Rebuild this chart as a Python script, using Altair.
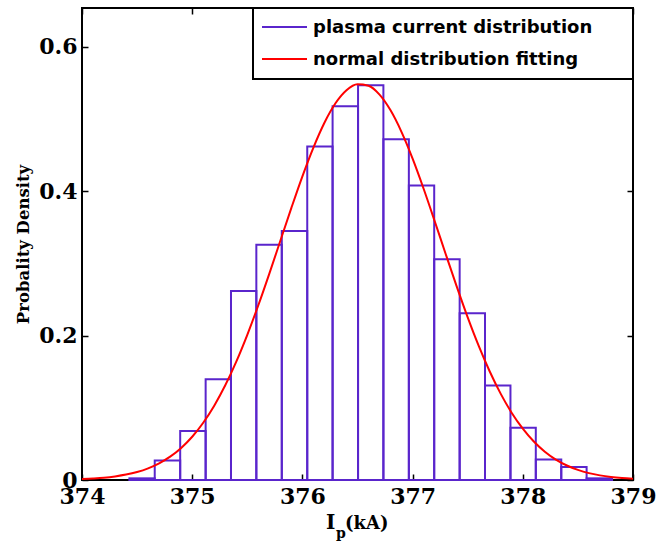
import altair as alt
import pandas as pd

# ---- data ----
bin_edges = [374.430, 374.660, 374.891, 375.122, 375.352, 375.582, 375.813,
             376.044, 376.274, 376.505, 376.735, 376.966, 377.196, 377.427,
             377.657, 377.888, 378.118, 378.349, 378.579, 378.810]
bin_density = [0.0023, 0.027, 0.068, 0.1395, 0.262, 0.326, 0.345, 0.462,
               0.518, 0.547, 0.472, 0.408, 0.306, 0.231, 0.131, 0.0725,
               0.0285, 0.018, 0.0023]

curve_x = [374.0, 374.1, 374.2, 374.3, 374.4, 374.5, 374.6, 374.7, 374.8, 374.9,
           375.0, 375.1, 375.2, 375.3, 375.4, 375.5, 375.6, 375.7, 375.8, 375.9,
           376.0, 376.1, 376.2, 376.3, 376.4, 376.5, 376.6, 376.7, 376.8, 376.9,
           377.0, 377.1, 377.2, 377.3, 377.4, 377.5, 377.6, 377.7, 377.8, 377.9,
           378.0, 378.1, 378.2, 378.3, 378.4, 378.5, 378.6, 378.7, 378.8, 378.9,
           379.0]
curve_y = [0.0013, 0.0021, 0.0032, 0.0050, 0.0075, 0.0111, 0.0162, 0.0231, 0.0323, 0.0444,
           0.0599, 0.0793, 0.1030, 0.1312, 0.1640, 0.2012, 0.2421, 0.2860, 0.3315, 0.3770,
           0.4208, 0.4607, 0.4951, 0.5220, 0.5401, 0.5483, 0.5463, 0.5340, 0.5122, 0.4821,
           0.4453, 0.4036, 0.3589, 0.3132, 0.2682, 0.2253, 0.1858, 0.1503, 0.1193, 0.0929,
           0.0711, 0.0533, 0.0392, 0.0283, 0.0201, 0.0140, 0.0095, 0.0064, 0.0042, 0.0027,
           0.0017]

x_ticks = [374, 375, 376, 377, 378, 379]
y_ticks = [0, 0.2, 0.4, 0.6]
legend_labels = ["plasma current distribution", "normal distribution fitting"]
y_title = "Probality Density"

PURPLE = "#5A25CC"
RED = "#FF0000"
W, H = 551, 472
SERIF = "DejaVu Serif"

bars = pd.DataFrame({"lo": bin_edges[:-1], "hi": bin_edges[1:], "density": bin_density})
curve = pd.DataFrame({"x": curve_x, "y": curve_y})
one = pd.DataFrame({"k": [0]})

xs = alt.Scale(domain=[374, 379], nice=False, zero=False)
ys = alt.Scale(domain=[0, 0.654], nice=False, zero=False)

# main labelled axes (no ticks)
ax_bottom = alt.Axis(orient="bottom", values=x_ticks, format="d", ticks=False, domain=False,
                     grid=False, labelFont=SERIF, labelFontWeight="bold", labelFontSize=22,
                     labelColor="black", labelPadding=6, labelFlush=False, labelOverlap=False,
                     title=None)
ax_left = alt.Axis(orient="left", values=y_ticks, format=".1~f", ticks=False, domain=False,
                   grid=False, labelFont=SERIF, labelFontWeight="bold", labelFontSize=22,
                   labelColor="black", labelPadding=5, labelFlush=False, labelOverlap=False,
                   title=y_title, titleFont=SERIF, titleFontWeight="bold", titleFontSize=16.5,
                   titleColor="black", titlePadding=7)


def tick_axis(orient, values, offset):
    return alt.Axis(orient=orient, values=values, offset=offset, labels=False, domain=False,
                    grid=False, ticks=True, tickSize=6, tickWidth=1.5, tickColor="black",
                    title=None)


hist = alt.Chart(bars).mark_rect(fill="white", fillOpacity=0, stroke=PURPLE, strokeWidth=2).encode(
    x=alt.X("lo:Q", scale=xs, axis=ax_bottom),
    x2="hi:Q",
    y=alt.Y("density:Q", scale=ys, axis=ax_left),
    y2=alt.datum(0),
)

line = alt.Chart(curve).mark_line(color=RED, strokeWidth=2, interpolate="monotone").encode(
    x=alt.X("x:Q", scale=xs, axis=tick_axis("top", x_ticks, -H)),
    y=alt.Y("y:Q", scale=ys, axis=tick_axis("right", y_ticks, -W)),
)

ghost = alt.Chart(curve).mark_line(opacity=0).encode(
    x=alt.X("x:Q", scale=xs, axis=tick_axis("bottom", x_ticks, -H)),
    y=alt.Y("y:Q", scale=ys, axis=tick_axis("left", y_ticks, -W)),
)

# legend box
leg_box = alt.Chart(one).mark_rect(fill="white", stroke="black", strokeWidth=2).encode(
    x=alt.value(171), x2=alt.value(W), y=alt.value(0), y2=alt.value(71))
leg_l1 = alt.Chart(one).mark_rule(color=PURPLE, strokeWidth=2).encode(
    x=alt.value(180), x2=alt.value(225), y=alt.value(19))
leg_l2 = alt.Chart(one).mark_rule(color=RED, strokeWidth=2).encode(
    x=alt.value(180), x2=alt.value(225), y=alt.value(51))
leg_t1 = alt.Chart(one).mark_text(align="left", baseline="alphabetic", font="DejaVu Sans",
                                  fontWeight="bold", fontSize=18, color="black").encode(
    x=alt.value(231), y=alt.value(25), text=alt.value(legend_labels[0]))
leg_t2 = alt.Chart(one).mark_text(align="left", baseline="alphabetic", font="DejaVu Sans",
                                  fontWeight="bold", fontSize=18, color="black").encode(
    x=alt.value(231), y=alt.value(57), text=alt.value(legend_labels[1]))

# x axis title I_p(kA)
xt_I = alt.Chart(one).mark_text(align="left", baseline="alphabetic", font=SERIF,
                                fontWeight="bold", fontSize=20, color="black").encode(
    x=alt.value(244), y=alt.value(521), text=alt.value("I"))
xt_p = alt.Chart(one).mark_text(align="left", baseline="alphabetic", font=SERIF,
                                fontWeight="bold", fontSize=14, color="black").encode(
    x=alt.value(254), y=alt.value(530), text=alt.value("p"))
xt_kA = alt.Chart(one).mark_text(align="left", baseline="alphabetic", font=SERIF,
                                 fontWeight="bold", fontSize=18, color="black").encode(
    x=alt.value(263), y=alt.value(521), text=alt.value("(kA)"))

chart = alt.layer(hist, line, ghost, leg_box, leg_l1, leg_l2, leg_t1, leg_t2,
                  xt_I, xt_p, xt_kA).resolve_axis(
    x="independent", y="independent"
).properties(
    width=W, height=H,
    autosize=alt.AutoSizeParams(type="none"),
    padding={"left": 82, "top": 8, "right": 39, "bottom": 65},
    background="white",
).configure_view(stroke="black", strokeWidth=2)

chart.save("out.html", embed_options={"renderer": "svg", "actions": False})
